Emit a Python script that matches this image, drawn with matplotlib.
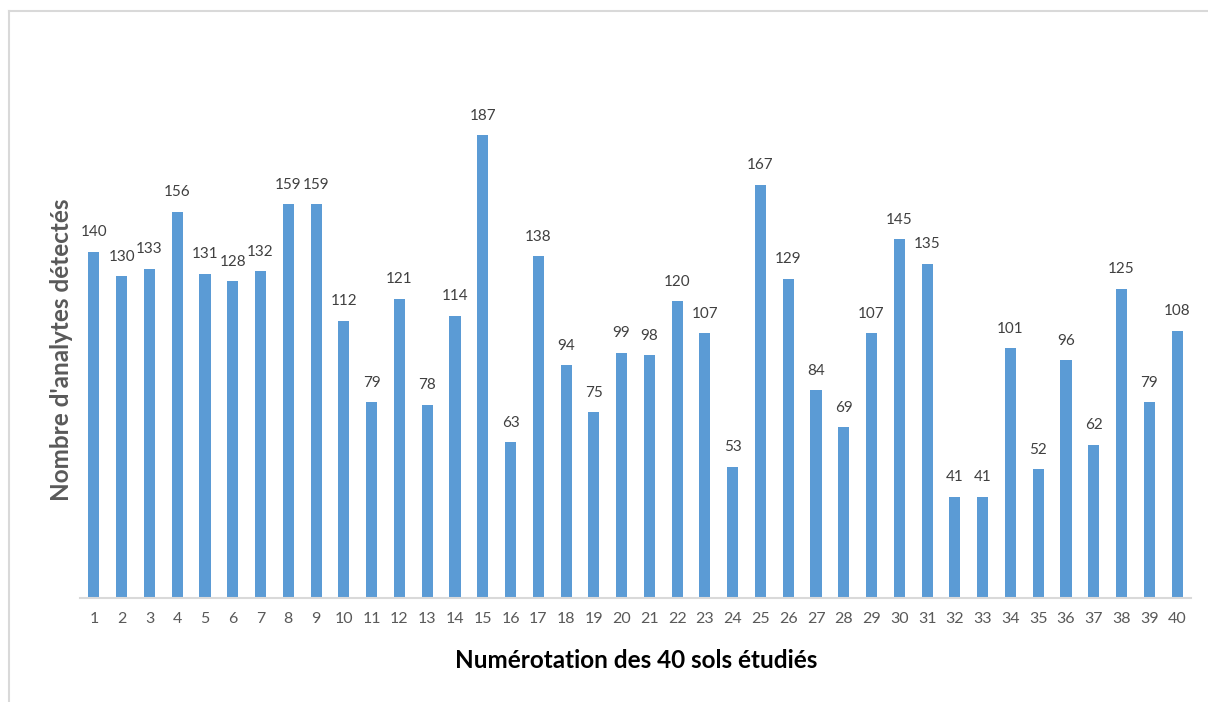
import matplotlib.pyplot as plt

plt.rcParams['font.family'] = ['Lato', 'DejaVu Sans']

sols = [str(i) for i in range(1, 41)]
analytes = [140, 130, 133, 156, 131, 128, 132, 159, 159, 112,
            79, 121, 78, 114, 187, 63, 138, 94, 75, 99,
            98, 120, 107, 53, 167, 129, 84, 69, 107, 145,
            135, 41, 41, 101, 52, 96, 62, 125, 79, 108]

W, H = 1208, 702
fig = plt.figure(figsize=(W / 100, H / 100), dpi=100)
ax = fig.add_axes([80 / W, (H - 598) / H, (1191 - 80) / W, (598 - 103) / H])

x = range(len(sols))
ax.bar(x, analytes, width=0.4, color='#5B9BD5')
for i, v in zip(x, analytes):
    ax.annotate(str(v), (i, v), xytext=(0, 9), textcoords='offset points',
                ha='center', va='bottom', fontsize=11, color='#404040')

ax.set_xlim(-0.5, len(sols) - 0.5)
ax.set_ylim(0, 200)
ax.set_xticks(list(x))
ax.set_xticklabels(sols, fontsize=11.5, color='#595959')
ax.tick_params(axis='x', length=0, pad=10)
ax.set_yticks([])
for s in ['top', 'right', 'left']:
    ax.spines[s].set_visible(False)
ax.spines['bottom'].set_color('#d9d9d9')
ax.spines['bottom'].set_linewidth(1.5)

fig.text(636 / W, 1 - 660 / H, 'Numérotation des 40 sols étudiés',
         ha='center', va='center', fontsize=17.5, fontweight='bold', color='black')
fig.text(62 / W, 1 - 350 / H, "Nombre d'analytes détectés", rotation=90,
         ha='center', va='center', fontsize=17.5, fontweight='bold', color='#595959')

# cadre gris du graphique
fig.add_artist(plt.Line2D([9 / W, 9 / W], [0, 1 - 11 / H], color='#d9d9d9', lw=1.5))
fig.add_artist(plt.Line2D([9 / W, 1], [1 - 11 / H, 1 - 11 / H], color='#d9d9d9', lw=1.5))

fig.savefig('out.png', dpi=100)
